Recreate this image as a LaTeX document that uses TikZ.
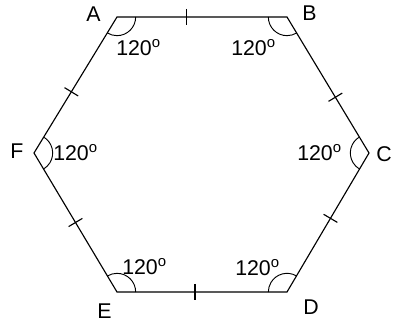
\documentclass[tikz,border=0pt]{standalone}
\usepackage{fontspec}
\setmainfont{Liberation Sans}
\usetikzlibrary{calc}
\begin{document}
\begin{tikzpicture}[x=0.75pt,y=-0.75pt,
  side/.style={line width=0.85pt,black},
  tickmark/.style={line width=0.85pt,black},
  anglearc/.style={line width=0.7pt,black},
  lbl/.style={font=\fontsize{16}{18}\selectfont,inner sep=0pt,anchor=base west},
  ang/.style={font=\fontsize{16}{18}\selectfont,inner sep=0pt,anchor=base west}]
\useasboundingbox (0,0) rectangle (393,324);
\coordinate (A) at (117,17);
\coordinate (B) at (287,17);
\coordinate (C) at (369,153);
\coordinate (D) at (287,292);
\coordinate (E) at (117,292);
\coordinate (F) at (34,153);
\draw[side] (A) -- (B) -- (C) -- (D) -- (E) -- (F) -- cycle;
% tick marks
\draw[tickmark] ($(A)!0.407!(B)+(0,-8)$) -- ($(A)!0.407!(B)+(0,8)$);
\draw[tickmark] ($(E)!0.459!(D)+(0,-8)$) -- ($(E)!0.459!(D)+(0,8)$);
\foreach \p/\q/\t in {A/F/0.55, F/E/0.5, B/C/0.59, C/D/0.47}{
  \draw[tickmark] ($(\p)!\t!(\q)!6pt!90:(\q)$) -- ($(\p)!\t!(\q)!6pt!-90:(\q)$);
}
% angle arcs
\draw[anglearc] ($(A)!14pt!(B)$) arc[start angle=0,end angle=-121.4,radius=14pt];
\draw[anglearc] ($(B)!14pt!(A)$) arc[start angle=180,end angle=301.1,radius=14pt];
\draw[anglearc] ($(C)!14pt!(B)$) arc[start angle=121.1,end angle=239.5,radius=14pt];
\draw[anglearc] ($(D)!14pt!(C)$) arc[start angle=59.5,end angle=180,radius=14pt];
\draw[anglearc] ($(E)!14pt!(D)$) arc[start angle=0,end angle=120.8,radius=14pt];
\draw[anglearc] ($(F)!14pt!(A)$) arc[start angle=58.6,end angle=-59.2,radius=14pt];
% vertex labels
\node[lbl] (la) at (86,22) {A};
\node[lbl] (lb) at (302,21) {B};
\node[lbl] (lc) at (376,162) {C};
\node[lbl] (ld) at (303,315) {D};
\node[lbl] (le) at (97,318) {E};
\node[lbl] (lf) at (10,159) {F};
% angle labels
\node[ang] (aa) at (116,56) {120\textsuperscript{o}};
\node[ang] (ab) at (231,56) {120\textsuperscript{o}};
\node[ang] (ac) at (297,161) {120\textsuperscript{o}};
\node[ang] (ad) at (235,276) {120\textsuperscript{o}};
\node[ang] (ae) at (122,275) {120\textsuperscript{o}};
\node[ang] (af) at (53,161) {120\textsuperscript{o}};
\end{tikzpicture}
\end{document}
